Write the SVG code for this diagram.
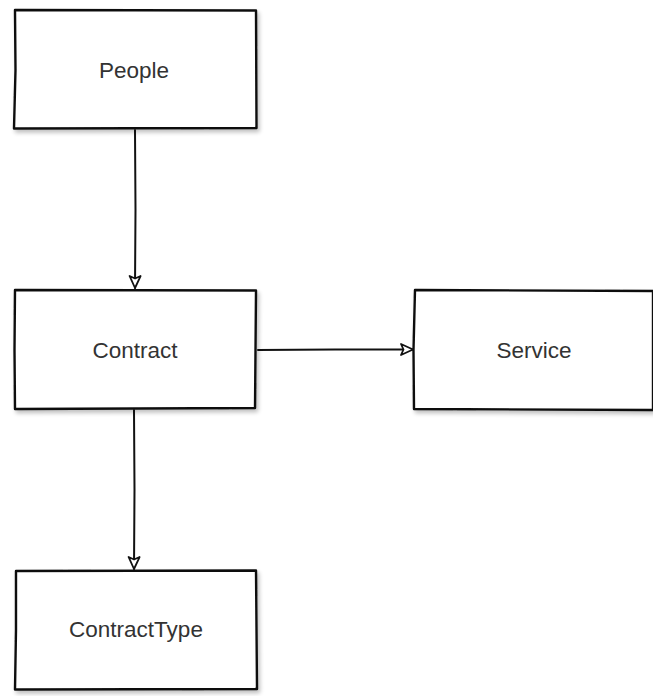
<svg xmlns="http://www.w3.org/2000/svg" width="653" height="696" viewBox="0 0 653 696">
<style>
.box{fill:#fff;stroke:#111;stroke-width:2.4;stroke-linejoin:round;stroke-linecap:round;filter:url(#sh)}
.edge{fill:none;stroke:#111;stroke-width:2;stroke-linecap:round}
.lbl{font-family:"Liberation Sans",Arial,sans-serif;font-size:22.5px;fill:#333;text-anchor:middle}
</style>
<defs>
<filter id="sh" x="-10%" y="-10%" width="130%" height="130%">
<feGaussianBlur in="SourceAlpha" stdDeviation="2"/>
<feOffset dx="2" dy="3" result="b"/>
<feComponentTransfer><feFuncA type="linear" slope="0.25"/></feComponentTransfer>
<feMerge><feMergeNode/><feMergeNode in="SourceGraphic"/></feMerge>
</filter>
<marker id="ah" viewBox="0 0 14 14" refX="13" refY="7" markerWidth="14" markerHeight="14" markerUnits="userSpaceOnUse" orient="auto">
<path d="M1,1.5 L13,7 L1,12.5 L3.5,7 Z" fill="#fff" stroke="#111" stroke-width="1.8" stroke-linejoin="round"/>
</marker>
</defs>
<rect width="653" height="696" fill="#fff"/>
<g id="connectors">
<path class="edge" d="M135,130 L135.5,210 L135,288" marker-end="url(#ah)"/>
<path class="edge" d="M258,350 L335,349.5 L413,349.5" marker-end="url(#ah)"/>
<path class="edge" d="M134,410 L134.5,490 L134,569" marker-end="url(#ah)"/>
</g>
<g id="people">
<path class="box" d="M15,10 L256,10.5 L256.5,128 L14,128.5 L15.5,70 Z"/>
<text class="lbl" x="134" y="78">People</text>
</g>
<g id="contract">
<path class="box" d="M15,290 L256,290.5 L255,408 L15,409 L14.5,350 Z"/>
<text class="lbl" x="135" y="358">Contract</text>
</g>
<g id="service">
<path class="box" d="M415,290 L653,291 L653,410 L414,409 L413.5,350 Z"/>
<text class="lbl" x="534" y="358">Service</text>
</g>
<g id="contracttype">
<path class="box" d="M16,571 L256,570.5 L257,689 L15,689.5 L16,630 Z"/>
<text class="lbl" x="136" y="637">ContractType</text>
</g>
</svg>
